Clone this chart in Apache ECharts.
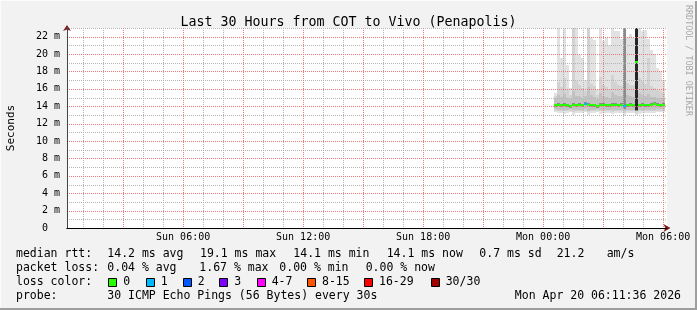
<!DOCTYPE html>
<html><head><meta charset="utf-8">
<script src="https://cdn.jsdelivr.net/npm/echarts@6/dist/echarts.min.js"></script>
<style>html,body{margin:0;padding:0;background:#f2f2f2}#c{width:697px;height:310px}</style>
</head><body><div id="c"></div>
<script>
// ---------------- data ----------------
// time in minutes since Sun 00:00 (Mon 00:00 = 1440)
const xStart = 11.6;      // Sun 00:11:36
const xEnd = 1811.6;      // Mon 06:11:36
const STEP_MIN = 9;
const stepStart = [1473,1482,1491,1500,1509,1518,1527,1536,1545,1554,1563,1572,1581,1590,1599,1608,1617,1626,1635,1644,1653,1662,1671,1680,1689,1698,1707,1716,1725,1734,1743,1752,1761,1770,1779,1788,1797];
// median rtt (ms) per step
const medianRtt = [14.1,14.2,14.1,14.2,14.1,14.0,14.2,14.1,14.2,14.1,14.3,14.2,14.1,14.1,14.0,14.2,14.2,14.1,14.1,14.2,14.2,14.1,14.2,14.0,14.1,14.2,14.1,19.1,14.1,14.2,14.1,14.1,14.2,14.3,14.2,14.1,14.2];
// lost pings per step (of 30)
const lostPings = [0,0,0,0,0,0,0,0,0,0,1,0,0,0,0,0,0,0,0,0,0,0,0,1,0,0,0,0,0,0,0,0,0,0,0,0,0];
// sorted ping quantiles per step (ms): 5 lower edges then 5 upper edges (outer pair first/last)
const smokeQuantiles = [
 [13.3,13.5,13.7,13.95,14.0,14.2,14.3,14.9,15.2,15.5],
 [13.2,13.4,13.6,14.05,14.1,14.3,14.4,15.3,16.8,30],
 [13.2,13.4,13.6,13.95,14.0,14.2,14.3,15.1,16.2,19.5],
 [13.1,13.4,13.6,14.05,14.1,14.3,14.4,15.4,17.2,32],
 [13.2,13.4,13.6,13.95,14.0,14.2,14.3,15.0,16.0,18.7],
 [13.3,13.5,13.7,13.85,13.9,14.1,14.2,14.8,15.3,16.1],
 [13.0,13.3,13.6,14.05,14.1,14.3,14.4,15.8,30,40],
 [13.2,13.4,13.6,13.95,14.0,14.2,14.3,15.2,16.9,28],
 [13.2,13.4,13.6,14.05,14.1,14.3,14.4,15.2,16.4,19.9],
 [13.2,13.4,13.6,13.95,14.0,14.2,14.3,15.0,16.1,19.5],
 [13.3,13.5,13.7,14.15,14.2,14.4,14.5,15.2,15.8,17.0],
 [13.0,13.3,13.5,14.05,14.1,14.3,14.4,16.2,29,36],
 [13.2,13.4,13.6,13.95,14.0,14.2,14.3,15.3,16.6,21.8],
 [13.2,13.4,13.6,13.95,14.0,14.2,14.3,15.1,16.3,21.6],
 [13.3,13.5,13.7,13.85,13.9,14.1,14.2,14.8,15.3,16.0],
 [13.1,13.4,13.6,14.05,14.1,14.3,14.4,15.5,17.4,31],
 [13.2,13.4,13.6,14.05,14.1,14.3,14.4,15.2,16.5,21.5],
 [13.2,13.4,13.6,13.95,14.0,14.2,14.3,15.1,16.2,21.8],
 [13.2,13.4,13.6,13.95,14.0,14.2,14.3,15.0,16.0,21.0],
 [13.1,13.3,13.6,14.05,14.1,14.3,14.4,15.6,17.6,30],
 [13.2,13.4,13.6,14.05,14.1,14.3,14.4,15.3,16.8,22.7],
 [13.2,13.4,13.6,13.95,14.0,14.2,14.3,15.2,16.4,22.6],
 [13.2,13.4,13.6,14.05,14.1,14.3,14.4,15.2,16.3,21.7],
 [12.9,13.2,13.5,13.7,13.9,14.1,30,36,42,50],
 [13.2,13.4,13.6,13.95,14.0,14.2,14.3,15.3,16.7,22.0],
 [13.2,13.4,13.6,14.05,14.1,14.3,14.4,15.2,16.5,22.3],
 [13.2,13.4,13.6,13.95,14.0,14.2,14.3,15.1,16.4,21.9],
 [13.0,13.2,13.4,13.5,13.6,30,38,45,52,60],
 [13.1,13.4,13.6,13.95,14.0,14.2,14.3,15.5,17.3,29],
 [13.2,13.4,13.6,14.05,14.1,14.3,14.4,15.3,16.9,22.7],
 [13.2,13.4,13.6,13.95,14.0,14.2,14.3,15.2,16.6,22.8],
 [13.2,13.4,13.6,13.95,14.0,14.2,14.3,15.4,19.5,21.7],
 [13.2,13.4,13.6,14.05,14.1,14.3,14.4,15.1,16.3,20.5],
 [13.2,13.4,13.6,14.15,14.2,14.4,14.5,15.1,16.1,20.0],
 [13.3,13.5,13.7,14.05,14.1,14.3,14.4,15.0,15.9,18.4],
 [13.3,13.5,13.7,13.95,14.0,14.2,14.3,14.9,15.7,18.0],
 [13.3,13.5,13.7,14.05,14.1,14.3,14.4,14.9,15.5,17.0]
];
// axis ticks (minutes since Sun 00:00 / ms)
const xLabelValues = [360,720,1080,1440,1800];
const xLabelTexts = ['Sun 06:00','Sun 12:00','Sun 18:00','Mon 00:00','Mon 06:00'];
const xMajorTicks = [180,360,540,720,900,1080,1260,1440,1620,1800];
const xMinorTicks = [60,120,240,300,420,480,600,660,780,840,960,1020,1140,1200,1320,1380,1500,1560,1680,1740];
const yMin = 0, yMax = 23;
const yMajorTicks = [2,4,6,8,10,12,14,16,18,20,22];
const yMinorTicks = [1,3,5,7,9,11,13,15,17,19,21,23];
const yLabelValues = [0,2,4,6,8,10,12,14,16,18,20,22];
// texts
const titleText = 'Last 30 Hours from COT to Vivo (Penapolis)';
const rttStats = ['14.2 ms avg','19.1 ms max','14.1 ms min','14.1 ms now','0.7 ms sd','21.2','am/s'];
const lossStats = ['0.04 % avg','1.67 % max','0.00 % min','0.00 % now'];
const lossLegend = ['0','1','2','3','4-7','8-15','16-29','30/30'];
const probeText = '30 ICMP Echo Pings (56 Bytes) every 30s';
const stampText = 'Mon Apr 20 06:11:36 2026';

// ---------------- style / layout ----------------
const FONT = 'DejaVu Sans Mono';
const LOSS_COLORS = ['#26ff00','#00b8ff','#0059ff','#7e00ff','#ff00ff','#ff5500','#ff0000','#a10000'];
const SHADES = ['#e2e2e2','#d2d2d2','#c2c2c2','#8a8a8a','#262626'];
const GRID_COLORS = ['#b4b4b4', '#ec7a7a'];   // [minor, major]
function lossIndex(n){ if(n<=3) return n; if(n<=7) return 4; if(n<=15) return 5; if(n<=29) return 6; return 7; }

const PLOT = {left:67, top:28, width:600, height:200};

const chart = echarts.init(document.getElementById('c'), null, {renderer:'canvas'});

const smokeData = stepStart.map((t,i)=>[t].concat(smokeQuantiles[i]));
const medianData = stepStart.map((t,i)=>[t, medianRtt[i], lostPings[i]]);
// grid line items: [value, isMajor]
const vGridData = xMinorTicks.map(v=>[v,0]).concat(xMajorTicks.map(v=>[v,1]));
const hGridData = yMinorTicks.map(v=>[xStart,v,0]).concat(yMajorTicks.map(v=>[xStart,v,1]));

function stepX(api, t){
  return [Math.round(api.coord([t, 0])[0]), Math.round(api.coord([t + STEP_MIN, 0])[0])];
}

const rttX = [107.3,200,293.3,386.7,479.3,556.7,606.7];
const lossX = [107.3,199.3,279.3,365.7];
const boxX = [108.3,145.7,182.7,219.3,256.7,307,364,430.7];
const LY = [254,268,282,296];
const legendFont = {fontFamily:FONT, fontSize:11.5, fill:'#000'};
const graphics = [];
function txt(x,y,s,align){ graphics.push({type:'text', x:x, y:y, silent:true, style:Object.assign({text:s, textAlign:align||'left', textVerticalAlign:'middle'}, legendFont)}); }
txt(16, LY[0], 'median rtt:');
rttStats.forEach((s,i)=>txt(rttX[i], LY[0], s));
txt(16, LY[1], 'packet loss:');
lossStats.forEach((s,i)=>txt(lossX[i], LY[1], s));
txt(16, LY[2], 'loss color:');
lossLegend.forEach((s,i)=>{
  graphics.push({type:'rect', silent:true, shape:{x:Math.round(boxX[i])+0.5, y:278.5, width:8, height:8}, style:{fill:LOSS_COLORS[i], stroke:'#000', lineWidth:1}});
  txt(boxX[i]+15, LY[2], s);
});
txt(16, LY[3], 'probe:');
txt(107.3, LY[3], probeText);
txt(681, LY[3], stampText, 'right');
graphics.push({type:'text', x:688, y:5, rotation:-Math.PI/2, silent:true, style:{text:'RRDTOOL / TOBI OETIKER', fontFamily:FONT, fontSize:8.4, fill:'#a8a8a8', textAlign:'left', textVerticalAlign:'middle'}});
graphics.push({type:'rect', silent:true, shape:{x:0,y:308,width:697,height:2}, style:{fill:'#9e9e9e'}});
graphics.push({type:'rect', silent:true, shape:{x:695,y:0,width:2,height:310}, style:{fill:'#9e9e9e'}});
graphics.push({type:'rect', silent:true, shape:{x:0,y:0,width:697,height:1}, style:{fill:'#fbfbfb'}});
graphics.push({type:'rect', silent:true, shape:{x:0,y:0,width:1,height:308}, style:{fill:'#fbfbfb'}});

const option = {
  animation:false,
  backgroundColor:'#f2f2f2',
  title:{text:titleText, left:'center', top:11, textStyle:{fontFamily:FONT, fontSize:13.3, fontWeight:'normal', color:'#000'}},
  grid:Object.assign({show:true, backgroundColor:'#ffffff', borderWidth:0, containLabel:false, outerBoundsMode:'none'}, PLOT),
  xAxis:[
    {type:'value', position:'bottom', min:xStart, max:xEnd, z:6,
     axisLine:{show:true, onZero:false, lineStyle:{color:'#000', width:1}},
     axisTick:{show:false},
     axisLabel:{show:true, customValues:xLabelValues, margin:4, fontFamily:FONT, fontSize:10, color:'#000',
       formatter:function(v){ const i = xLabelValues.indexOf(v); return i>=0 ? xLabelTexts[i] : ''; }},
     splitLine:{show:false}},
    {type:'value', position:'top', offset:-PLOT.height, min:xStart, max:xEnd, z:5,
     axisLine:{show:true, onZero:false, symbol:['none','arrow'], symbolSize:[6,7], symbolOffset:[0,3.5], lineStyle:{color:'#801f1f', width:1}},
     axisTick:{show:false}, axisLabel:{show:false}, splitLine:{show:false}}
  ],
  yAxis:[
    {type:'value', position:'left', min:yMin, max:yMax, z:6,
     name:'Seconds', nameLocation:'middle', nameGap:50, nameTextStyle:{fontFamily:FONT, fontSize:11, color:'#000'},
     axisLine:{show:true, onZero:false, lineStyle:{color:'#444', width:1}},
     axisTick:{show:false},
     axisLabel:{show:true, customValues:yLabelValues, margin:7, fontFamily:FONT, fontSize:10, color:'#000',
       formatter:function(v){ return v===0 ? '0  ' : v+' m'; }},
     splitLine:{show:false}},
    {type:'value', position:'right', offset:-PLOT.width, min:yMin, max:yMax, z:5,
     axisLine:{show:true, onZero:false, symbol:['none','arrow'], symbolSize:[6,6], symbolOffset:[0,3], lineStyle:{color:'#801f1f', width:1}},
     axisTick:{show:false}, axisLabel:{show:false}, splitLine:{show:false}}
  ],
  graphic:graphics,
  series:[
    {type:'custom', name:'smoke', xAxisIndex:0, yAxisIndex:0, z:1, silent:true, clip:true,
     data:smokeData, encode:{x:0, y:[1,2,3,4,5,6,7,8,9,10]},
     renderItem:function(params, api){
       const t = api.value(0);
       const xs = stepX(api, t);
       const top = params.coordSys.y, bottom = params.coordSys.y + params.coordSys.height;
       const children = [];
       for(let p=0;p<5;p++){
         const lo = api.value(1+p), hi = api.value(10-p);
         let y0 = Math.round(api.coord([t, lo])[1]);
         let y1 = Math.round(api.coord([t, hi])[1]);
         y1 = Math.max(y1, top); y0 = Math.min(y0, bottom);
         if (y0 - y1 <= 0) continue;
         children.push({type:'rect', shape:{x:xs[0], y:y1, width:xs[1]-xs[0], height:y0-y1}, style:{fill:SHADES[p]}});
       }
       return {type:'group', children:children};
     }},
    {type:'custom', name:'vgrid', xAxisIndex:0, yAxisIndex:0, z:2, silent:true,
     data:vGridData, encode:{x:0},
     renderItem:function(params, api){
       const x = Math.round(api.coord([api.value(0), yMin])[0]) + 0.5;
       const cs = params.coordSys;
       const c = GRID_COLORS[api.value(1)];
       return {type:'line', z2:api.value(1), shape:{x1:x, y1:cs.y, x2:x, y2:cs.y + cs.height}, style:{stroke:c, lineWidth:1, lineDash:[1,1]}};
     }},
    {type:'custom', name:'hgrid', xAxisIndex:0, yAxisIndex:0, z:2, silent:true,
     data:hGridData, encode:{x:0, y:1},
     renderItem:function(params, api){
       const y = Math.round(api.coord([xStart, api.value(1)])[1]) + 0.5;
       const cs = params.coordSys;
       const c = GRID_COLORS[api.value(2)];
       return {type:'line', shape:{x1:cs.x, y1:y, x2:cs.x + cs.width, y2:y}, style:{stroke:c, lineWidth:1, lineDash:[1,1]}};
     }},
    {type:'custom', name:'median', xAxisIndex:0, yAxisIndex:0, z:10, silent:true, clip:true,
     data:medianData, encode:{x:0, y:1},
     renderItem:function(params, api){
       const t = api.value(0);
       const xs = stepX(api, t);
       const y = Math.round(api.coord([t, api.value(1)])[1]);
       return {type:'rect', shape:{x:xs[0], y:y-1, width:xs[1]-xs[0], height:2}, style:{fill:LOSS_COLORS[lossIndex(api.value(2))]}};
     }}
  ]
};
chart.setOption(option);
</script>
</body></html>
